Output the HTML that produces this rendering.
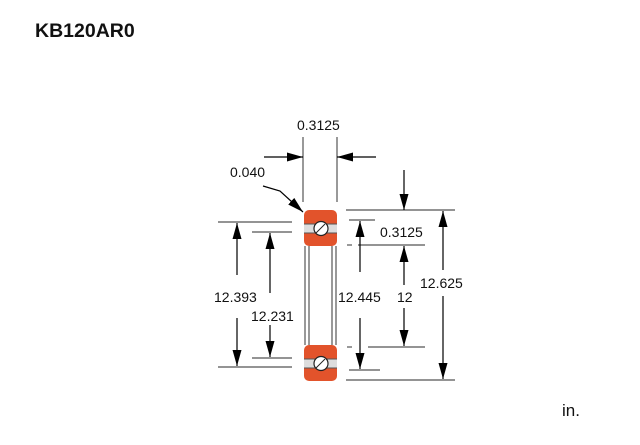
<!DOCTYPE html>
<html><head><meta charset="utf-8"><style>
body{margin:0;background:#fff}
svg text{font-family:"Liberation Sans",sans-serif;fill:#111}
</style></head><body>
<svg width="640" height="440" viewBox="0 0 640 440" xmlns="http://www.w3.org/2000/svg">
<defs>
<marker id="b" viewBox="0 0 10 10" refX="10" refY="5" markerWidth="16" markerHeight="10" markerUnits="userSpaceOnUse" orient="auto" preserveAspectRatio="none"><path d="M0,0.5 L10,5 L0,9.5z" fill="#000"/></marker>
</defs>
<text x="35" y="37" font-size="19.5" font-weight="bold">KB120AR0</text>
<text x="562" y="416" font-size="17">in.</text>
<g stroke="#555" stroke-width="1.2" fill="none">
<line x1="305" y1="246" x2="305" y2="345"/><line x1="309" y1="246" x2="309" y2="345"/>
<line x1="332" y1="246" x2="332" y2="345"/><line x1="336" y1="246" x2="336" y2="345"/>
<line x1="303" y1="137" x2="303" y2="202"/><line x1="337" y1="137" x2="337" y2="202"/>
<line x1="218" y1="222" x2="292" y2="222"/><line x1="252" y1="232" x2="292" y2="232"/>
<line x1="252" y1="358" x2="292" y2="358"/><line x1="218" y1="367" x2="292" y2="367"/>
<line x1="346" y1="210" x2="455" y2="210"/><line x1="346" y1="380" x2="455" y2="380"/>
<line x1="349" y1="220" x2="375" y2="220"/><line x1="349" y1="370" x2="380" y2="370"/>
<line x1="347" y1="245" x2="352" y2="245"/><line x1="358" y1="245" x2="425" y2="245"/>
<line x1="347" y1="347" x2="352" y2="347"/><line x1="368" y1="347" x2="425" y2="347"/>
</g>
<g stroke="#000" stroke-width="1.2" fill="none">
<line x1="264" y1="157" x2="303" y2="157" marker-end="url(#b)"/>
<line x1="376" y1="157" x2="337" y2="157" marker-end="url(#b)"/>
<polyline points="263,186 280,191 303,212" marker-end="url(#b)"/>
<line x1="404" y1="170" x2="404" y2="210" marker-end="url(#b)"/>
<line x1="443" y1="270" x2="443" y2="211" marker-end="url(#b)"/>
<line x1="443" y1="296" x2="443" y2="379" marker-end="url(#b)"/>
<line x1="237" y1="275" x2="237" y2="223" marker-end="url(#b)"/>
<line x1="237" y1="318" x2="237" y2="366" marker-end="url(#b)"/>
<line x1="270" y1="293" x2="270" y2="233" marker-end="url(#b)"/>
<line x1="270" y1="325" x2="270" y2="357" marker-end="url(#b)"/>
<line x1="360" y1="272" x2="360" y2="221" marker-end="url(#b)"/>
<line x1="360" y1="318" x2="360" y2="369" marker-end="url(#b)"/>
<line x1="404" y1="285" x2="404" y2="246" marker-end="url(#b)"/>
<line x1="404" y1="308" x2="404" y2="346" marker-end="url(#b)"/>
</g>
<g>
<rect x="304" y="210" width="33" height="36" rx="5" fill="#e2532b"/>
<rect x="304" y="224" width="33" height="9" fill="#ddd"/>
<line x1="304" y1="224" x2="337" y2="224" stroke="#555"/><line x1="304" y1="233" x2="337" y2="233" stroke="#555"/>
<circle cx="321" cy="228.5" r="7" fill="#fff" stroke="#222" stroke-width="1.2"/>
<line x1="316" y1="233" x2="325" y2="224" stroke="#222"/>
<rect x="304" y="345" width="33" height="36" rx="5" fill="#e2532b"/>
<rect x="304" y="359" width="33" height="9" fill="#ddd"/>
<line x1="304" y1="359" x2="337" y2="359" stroke="#555"/><line x1="304" y1="368" x2="337" y2="368" stroke="#555"/>
<circle cx="321" cy="363.5" r="7" fill="#fff" stroke="#222" stroke-width="1.2"/>
<line x1="316" y1="368" x2="325" y2="359" stroke="#222"/>
</g>
<g font-size="14">
<text x="297" y="130">0.3125</text>
<text x="230" y="177">0.040</text>
<text x="380" y="237">0.3125</text>
<text x="214" y="302">12.393</text>
<text x="251" y="321">12.231</text>
<text x="338" y="302">12.445</text>
<text x="397" y="302">12</text>
<text x="420" y="288">12.625</text>
</g>
</svg>
</body></html>
